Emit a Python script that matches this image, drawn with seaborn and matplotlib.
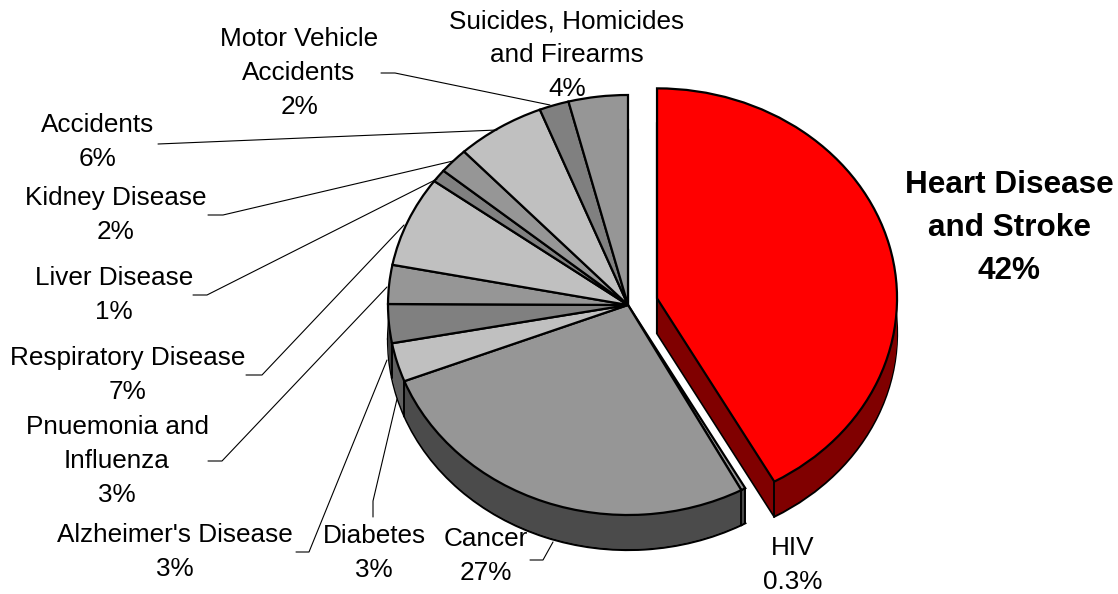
import numpy as np
import matplotlib
matplotlib.use("Agg")
import matplotlib.pyplot as plt
import seaborn as sns

# slices, clockwise from the top
causes = ["Heart Disease\nand Stroke", "HIV", "Cancer", "Diabetes", "Alzheimer's Disease",
          "Pnuemonia and\nInfluenza", "Respiratory Disease", "Liver Disease", "Kidney Disease",
          "Accidents", "Motor Vehicle\nAccidents", "Suicides, Homicides\nand Firearms"]
shares = [42, 0.3, 27, 3, 3, 3, 7, 1, 2, 6, 2, 4]
share_labels = ["42%", "0.3%", "27%", "3%", "3%", "3%", "7%", "1%", "2%", "6%", "2%", "4%"]
explode = [30] + [0] * 11
top_colors = ["#ff0000", "#969696", "#969696", "#c0c0c0", "#808080", "#969696",
              "#c0c0c0", "#808080", "#969696", "#c0c0c0", "#808080", "#969696"]
side_colors = ["#800000", "#4b4b4b", "#4b4b4b", "#606060", "#404040", "#4b4b4b",
               "#606060", "#404040", "#4b4b4b", "#606060", "#404040", "#4b4b4b"]

# label centre in pixels
label_pos = [(1009, 228), (793, 565), (486, 556), (374, 553), (175, 552),
             (117, 461), (128, 375), (114, 295), (116, 215), (98, 142), (299, 73), (567, 55)]
# leader lines in pixels
leaders = [[(530, 560), (543, 560), (553, 542)],
           [(373, 517), (373, 501), (397, 399)],
           [(296, 552), (309, 552), (387, 360)],
           [(208, 461), (222, 461), (387, 287)],
           [(246, 375), (262, 375), (404, 225)],
           [(193, 295), (207, 295), (437, 179)],
           [(208, 215), (223, 215), (453, 161)],
           [(158, 144), (497, 130)],
           [(381, 73), (395, 73), (550, 105)]]

W, H = 1118, 594
SQUASH = 210 / 240   # pie is tilted, so y runs at 0.875 px per unit
CX, CY = 628, 305
R = 240
DEPTH = 35


def y_data(py):
    return (H - py) / SQUASH


sns.set_theme(style="white")
plt.rcParams["font.family"] = ["Liberation Sans", "DejaVu Sans"]

fig = plt.figure(figsize=(W / 100, H / 100), dpi=100)
ax = fig.add_axes([0, 0, 1, 1])


def draw_pie(offset, colors, edge):
    ax.pie(shares, explode=explode, colors=colors, startangle=90, counterclock=False,
           radius=R, center=(CX, y_data(CY + offset)), frame=True,
           wedgeprops=dict(linewidth=1.6 if edge else 0, edgecolor="black" if edge else "none"))


def seam(x, y):
    ax.plot([x, x], [y, y - DEPTH / SQUASH], color="black", lw=1.4, zorder=5)


# side wall: stack of darker pies, outlined at the bottom
draw_pie(DEPTH, side_colors, True)
for off in range(DEPTH - 1, 0, -1):
    draw_pie(off, side_colors, False)
draw_pie(0, top_colors, True)

# vertical seams on the wall at slice ends
ends = np.cumsum(shares) / np.sum(shares) * 2 * np.pi
mid = ends[0] / 2
red_x = CX + explode[0] * np.sin(mid)
red_y = y_data(CY) + explode[0] * np.cos(mid)
seam(red_x, red_y)
seam(red_x + R * np.sin(ends[0]), red_y + R * np.cos(ends[0]))
seam(CX + R * np.sin(ends[0]), y_data(CY) + R * np.cos(ends[0]))
for i in [1, 2, 3]:
    seam(CX + R * np.sin(ends[i]), y_data(CY) + R * np.cos(ends[i]))

ax.set_aspect("auto")
ax.set_xlim(0, W)
ax.set_ylim(0, H / SQUASH)
ax.set_axis_off()

for line in leaders:
    ax.plot([p[0] for p in line], [y_data(p[1]) for p in line], color="black", lw=0.8, zorder=6)

for i, (name, pct) in enumerate(zip(causes, share_labels)):
    px, py = label_pos[i]
    bold = i == 0
    ax.text(px, y_data(py), name + "\n" + pct, ha="center", va="center", color="black",
            fontsize=22.7 if bold else 18.8, fontweight="bold" if bold else "normal",
            linespacing=1.58 if bold else 1.52, zorder=7)

fig.savefig("out.png", dpi=100)
